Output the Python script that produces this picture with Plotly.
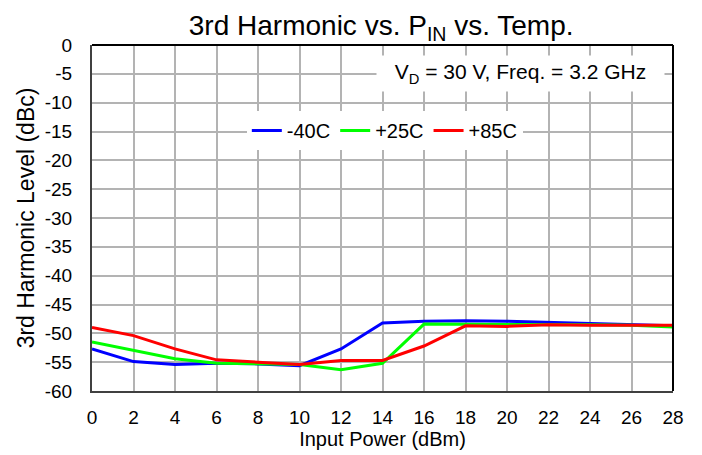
import plotly.graph_objects as go

pin = [0, 2, 4, 6, 8, 10, 12, 14, 16, 18, 20, 22, 24, 26, 28]
h3_m40 = [-52.7, -54.9, -55.4, -55.2, -55.3, -55.6, -52.7, -48.2, -47.9, -47.8, -47.9, -48.1, -48.4, -48.6, -48.7]
h3_p25 = [-51.5, -52.9, -54.4, -55.2, -55.3, -55.4, -56.3, -55.2, -48.4, -48.4, -48.4, -48.4, -48.5, -48.6, -48.9]
h3_p85 = [-49.0, -50.4, -52.7, -54.6, -55.0, -55.4, -54.7, -54.7, -52.2, -48.7, -48.8, -48.5, -48.6, -48.6, -48.6]

series = [("-40C", h3_m40, "#0000ff"), ("+25C", h3_p25, "#00ff00"), ("+85C", h3_p85, "#ff0000")]

x_ticks = list(range(0, 29, 2))
y_ticks = list(range(-60, 1, 5))

FONT = "Liberation Sans, Arial, sans-serif"

fig = go.Figure()
for name, vals, col in series:
    fig.add_trace(go.Scatter(x=pin, y=vals, mode="lines", name=name,
                             line=dict(color=col, width=3)))

fig.update_layout(
    width=702, height=455,
    margin=dict(l=92, r=29, t=45, b=64, autoexpand=False),
    paper_bgcolor="white", plot_bgcolor="white",
    font=dict(family=FONT, color="black", size=19),
    title=dict(text="3rd Harmonic vs. P<sub>IN</sub> vs. Temp.", automargin=False,
               x=0.543, xanchor="center", y=1 - 25 / 455, yanchor="middle",
               font=dict(size=28, family=FONT, color="black")),
    showlegend=True,
    legend=dict(orientation="h", x=0.504, xanchor="center", y=0.753, yanchor="middle",
                bgcolor="white", font=dict(size=20, family=FONT, color="black"),
                itemwidth=30, tracegroupgap=0),
    xaxis=dict(range=[0, 28], tickvals=x_ticks, ticktext=[str(v) for v in x_ticks],
               showgrid=True, gridcolor="#b3b3b3", gridwidth=1.5, automargin=False,
               showline=True, linecolor="#404040", linewidth=2, mirror=False,
               ticks="", ticklabelstandoff=8, zeroline=False,
               tickfont=dict(size=19),
               title=dict(text="Input Power (dBm)", font=dict(size=20), standoff=5)),
    yaxis=dict(range=[-60, 0], tickvals=y_ticks, ticktext=[str(v) for v in y_ticks],
               showgrid=True, gridcolor="#b3b3b3", gridwidth=1.5, automargin=False,
               showline=True, linecolor="#404040", linewidth=2, mirror=False,
               ticks="", ticklabelstandoff=14, zeroline=False,
               tickfont=dict(size=19),
               title=dict(text="3rd Harmonic Level (dBc)", font=dict(size=23), standoff=4)),
    annotations=[dict(text="V<sub>D</sub> = 30 V, Freq. = 3.2 GHz",
                      xref="paper", yref="paper", x=0.738, y=0.918,
                      xanchor="center", yanchor="middle", showarrow=False,
                      bgcolor="white", width=285, height=33,
                      font=dict(size=21, family=FONT, color="black"))],
    shapes=[
        dict(type="line", xref="paper", yref="paper", x0=0, x1=1, y0=1, y1=1,
             line=dict(color="black", width=2)),
        dict(type="line", xref="paper", yref="paper", x0=1, x1=1, y0=0, y1=1,
             line=dict(color="black", width=2)),
    ],
)

fig.write_html("out.html", config={"displayModeBar": False},
               post_script="document.body.style.margin='0';")
